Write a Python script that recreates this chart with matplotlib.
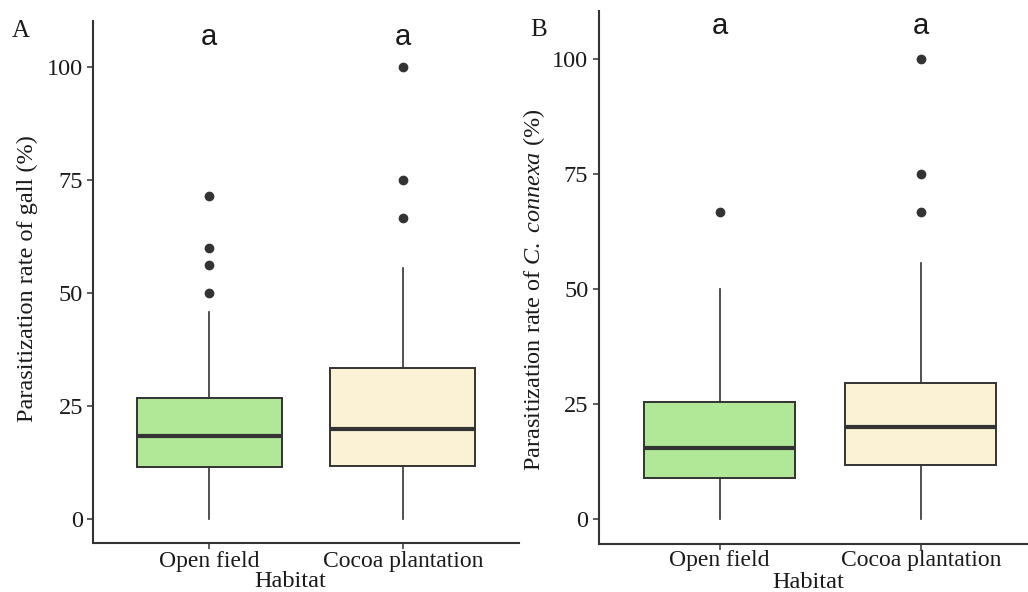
import matplotlib
matplotlib.use("Agg")
import matplotlib.pyplot as plt

# Data (percent)
habitats = ["Open field", "Cocoa plantation"]
box_colors = ["#b0e898", "#fbf2d6"]

# Panel A: parasitization rate of gall
a_whislo = [0, 0]
a_q1 = [11.5, 11.8]
a_med = [18.3, 20.0]
a_q3 = [26.7, 33.3]
a_whishi = [45.8, 55.6]
a_fliers = [[50.0, 56.25, 60.0, 71.4], [66.7, 75.0, 100.0]]

# Panel B: parasitization rate of C. connexa
b_whislo = [0, 0]
b_q1 = [9.0, 11.8]
b_med = [15.5, 20.0]
b_q3 = [25.5, 29.6]
b_whishi = [50.0, 55.6]
b_fliers = [[66.7], [66.7, 75.0, 100.0]]

letters = ["a", "a"]
yticks = [0, 25, 50, 75, 100]

SERIF = "Liberation Serif"
SANS = "Liberation Sans"
EDGE = "#333333"
TXT = "#1a1a1a"

plt.rcParams["mathtext.fontset"] = "custom"
plt.rcParams["mathtext.rm"] = SERIF
plt.rcParams["mathtext.it"] = SERIF + ":italic"


def draw_panel(ax, whislo, q1, med, q3, whishi, fliers, ylabel, letter_y,
               ylab_xy, xlab_xy, xpad):
    stats = []
    for i in range(len(habitats)):
        stats.append({
            "whislo": whislo[i], "q1": q1[i], "med": med[i],
            "q3": q3[i], "whishi": whishi[i], "fliers": fliers[i],
        })
    bp = ax.bxp(
        stats, positions=[1, 2], widths=0.75, patch_artist=True,
        showcaps=False,
        boxprops=dict(edgecolor=EDGE, linewidth=1.4),
        medianprops=dict(color=EDGE, linewidth=3.0, solid_capstyle="butt"),
        whiskerprops=dict(color=EDGE, linewidth=1.2),
        flierprops=dict(marker="o", markerfacecolor=EDGE, markeredgecolor=EDGE,
                        markersize=6, linestyle="none"),
    )
    for patch, c in zip(bp["boxes"], box_colors):
        patch.set_facecolor(c)
    for i, lab in enumerate(letters):
        ax.text(i + 1, letter_y, lab, ha="center", va="center", fontsize=21,
                family=SANS, color=TXT)
    ax.set_xlim(0.4, 2.6)
    ax.set_ylim(-5.25, 110.25)
    ax.set_xticks([1, 2])
    ax.set_xticklabels(habitats, family=SERIF, fontsize=17, color=TXT)
    ax.set_yticks(yticks)
    ax.set_yticklabels([str(t) for t in yticks], family=SERIF, fontsize=17.5,
                       color=TXT)
    ax.set_ylabel(ylabel, family=SERIF, fontsize=17.5, color=TXT)
    ax.yaxis.set_label_coords(*ylab_xy)
    ax.set_xlabel("Habitat", family=SERIF, fontsize=17.5, color=TXT)
    ax.xaxis.set_label_coords(*xlab_xy)
    for s in ["top", "right"]:
        ax.spines[s].set_visible(False)
    for s in ["left", "bottom"]:
        ax.spines[s].set_color(EDGE)
        ax.spines[s].set_linewidth(1.5)
    ax.tick_params(axis="both", length=4, width=1.1, color=EDGE)
    ax.tick_params(axis="y", pad=3.5)
    ax.tick_params(axis="x", pad=xpad)


fig = plt.figure(figsize=(10.28, 5.92), dpi=100)
ax_a = fig.add_axes([0.0908, 0.0833, 0.4138, 0.8816])
ax_b = fig.add_axes([0.5824, 0.0818, 0.431, 0.8991])

draw_panel(ax_a, a_whislo, a_q1, a_med, a_q3, a_whishi, a_fliers,
           "Parasitization rate of gall (%)", 106.6,
           (-0.129, 0.506), (0.462, -0.054), 2)
draw_panel(ax_b, b_whislo, b_q1, b_med, b_q3, b_whishi, b_fliers,
           r"Parasitization rate of $\mathit{C.\ connexa}$ (%)", 107.0,
           (-0.117, 0.477), (0.4725, -0.053), 0.5)

fig.text(12 / 1028, 1 - 31 / 592, "A", family=SERIF, fontsize=18, va="center",
         color=TXT)
fig.text(530 / 1028, 1 - 30 / 592, "B", family=SERIF, fontsize=18, va="center",
         color=TXT)

fig.savefig("out.png", dpi=100)
